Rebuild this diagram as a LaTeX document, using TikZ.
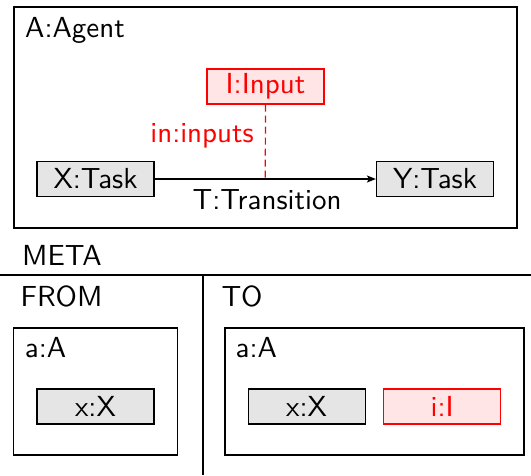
\documentclass[tikz,border=0pt]{standalone}
\usepackage{fontspec}
\setsansfont{lmsans10-regular.otf}
\usetikzlibrary{arrows.meta}
\begin{document}
\begin{tikzpicture}[x=1pt,y=-1pt,
  font=\sffamily\fontsize{29}{34}\selectfont,
  frame/.style={draw=black,line width=1.9pt},
  subframe/.style={draw=black,line width=1.8pt},
  task/.style={draw=black,fill=black!10,line width=1.2pt,minimum width=117pt,minimum height=35pt,inner sep=0pt},
  inp/.style={draw=red,fill=red!10,text=red,line width=1.2pt,minimum width=117pt,minimum height=35pt,inner sep=0pt},
  lbl/.style={inner sep=0pt,anchor=base west}]
\useasboundingbox (0,0) rectangle (531,475);
% top frame
\draw[frame] (14,7) rectangle (517,228);
\node[lbl] (agent) at (25,37.7) {A:Agent};
\node[inp] (I) at (265.5,86.5) {I:Input};
\node[task] (X) at (95.5,179) {X:Task};
\node[task] (Y) at (435,179) {Y:Task};
\draw[line width=1.2pt,-{Stealth[length=9pt,width=7pt,inset=2pt]}] (X) -- coordinate[pos=0.5] (mid) (Y);
\node[inner sep=0pt,anchor=base] (T) at (267,209.7) {T:Transition};
\draw[red,line width=1.2pt,dash pattern=on 7pt off 4pt] (I.south) -- (mid);
\node[text=red,inner sep=0pt,anchor=base east] (inl) at (254,142.5) {in:inputs};
% meta
\node[lbl] (meta) at (22,265) {META};
\coordinate (hl) at (0,275);
\coordinate (hr) at (531,275);
\coordinate (vt) at (203,275);
\coordinate (vb) at (203,475);
\draw[line width=1.6pt] (hl) -- (hr);
\draw[line width=1.6pt] (vt) -- (vb);
\node[lbl] (from) at (20.3,306.7) {FROM};
\node[lbl] (to) at (221.3,306.7) {TO};
% from box
\draw[subframe] (13.5,327.7) rectangle (177.4,455);
\node[lbl] (fa) at (24.7,357.7) {a:A};
\node[task] (fx) at (95.5,406.4) {x:X};
% to box
\draw[subframe] (224.7,327.7) rectangle (524,455);
\node[lbl] (ta) at (235.5,357.7) {a:A};
\node[task] (tx) at (306.6,406.4) {x:X};
\node[inp] (ti) at (442.2,406.4) {i:I};
\end{tikzpicture}
\end{document}
